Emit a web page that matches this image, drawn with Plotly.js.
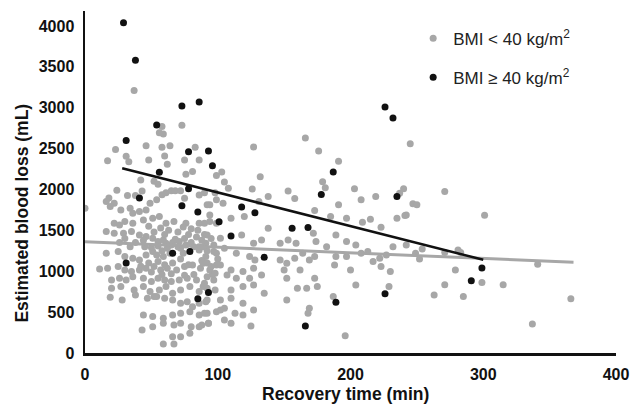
<!DOCTYPE html>
<html>
<head>
<meta charset="utf-8">
<script src="https://cdn.plot.ly/plotly-3.0.1.min.js"></script>
<style>html,body{margin:0;padding:0;background:#fff}#chart{width:634px;height:408px}</style>
</head>
<body>
<div id="chart"></div>
<script>
// BMI < 40 kg/m2 : recovery time (min) and estimated blood loss (mL)
const grayX = [
37,58,56,59,73,23,46,58,64,83,31,33,17,48,60,75,86,62,81,76,99,42,52,55,24,32,38,43,58,61,65,68,72,18,
127,166,176,191,245,103,105,108,132,126,138,153,158,179,181,203,240,90,98,271,
0,16,22,19,27,34,36,41,46,49,54,75,86,94,99,
22,26,30,36,44,51,56,61,67,76,86,94,
16,22,29,35,41,46,51,55,59,61,65,71,76,86,91,97,
16,25,30,36,41,46,51,54,59,64,74,86,91,99,
11,17,25,30,35,41,46,52,57,62,69,75,81,87,94,99,
20,26,31,36,44,50,55,60,65,71,77,84,90,97,
20,27,37,44,49,52,56,61,66,72,79,86,92,
19,28,38,47,54,60,66,72,77,81,86,91,
44,51,59,66,72,79,86,92,99,
43,51,59,67,72,80,86,93,
66,72,79,59,67,
45,50,55,58,62,66,68,70,72,75,78,80,82,84,88,90,92,95,60,63,57,52,48,44,38,34,30,26,70,74,80,85,88,72,66,60,55,48,42,78,82,75,65,58,50,92,96,100,
92,104,94,110,120,131,173,191,208,219,237,247,185,197,209,215,223,235,242,
90,99,92,102,118,127,133,138,147,153,159,172,174,182,189,197,204,213,222,227,232,242,249,
89,97,105,114,124,128,147,152,158,164,169,173,189,197,208,217,223,89,95,102,110,119,127,
92,98,107,114,124,133,150,152,162,173,175,188,200,204,230,229,89,98,110,119,127,135,152,160,167,187,92,102,110,119,
90,102,105,113,119,127,105,110,125,88,93,169,168,196,
250,241,301,254,252,271,281,283,279,271,263,285,299,315,341,366,337
];
const grayY = [
3210,2770,2695,2680,2785,2490,2535,2515,2535,2515,2405,2340,2350,2360,2410,2360,2360,2310,2220,2185,2170,2115,2100,2065,1990,1925,1925,1980,1935,1960,1985,1985,1985,1895,
2520,2630,2470,2345,2560,2215,2090,2015,2155,2005,1915,1980,1890,2095,2020,2010,2010,1960,1960,1975,
1770,1852,1832,1791,1750,1771,1710,1730,1750,1832,1873,1893,1934,1812,1873,
1587,1567,1608,1587,1628,1648,1669,1587,1608,1587,1587,1608,
1485,1465,1465,1485,1444,1424,1403,1363,1383,1342,1322,1363,1322,1301,1342,1322,
1220,1240,1179,1159,1138,1200,1240,1200,1179,1220,1220,1261,1179,1220,
1028,1036,1057,1016,996,1016,1036,1057,1016,1036,1016,1057,1077,1036,1016,1077,
894,914,894,934,914,873,914,894,873,894,914,894,853,894,
792,812,771,812,751,690,771,812,730,771,812,751,792,
681,649,710,669,690,669,649,608,628,567,608,628,
465,445,424,465,486,506,465,486,506,
282,322,363,343,363,322,322,363,
200,200,241,110,110,
1300,1290,1310,1250,1280,1350,1390,1300,1280,1400,1450,1350,1300,1420,1380,1450,1250,1400,1450,1500,1530,1480,1550,1380,1350,1300,1400,1350,1480,1540,1520,1500,1130,1150,1100,1080,1120,1100,1060,1080,960,950,970,960,990,1100,960,1150,
1812,1832,1689,1648,1669,1852,1742,1812,1873,1914,1954,1824,1669,1648,1599,1636,1538,1648,1689,
1587,1587,1444,1403,1444,1342,1383,1526,1342,1383,1342,1465,1363,1301,1444,1363,1322,1240,1159,1200,1301,1322,1220,
1301,1240,1281,1220,1179,1138,1138,1097,1159,1220,1138,1179,1179,1179,1220,1118,1057,1097,1057,1077,1016,996,1036,
934,975,955,914,914,955,1016,914,1016,914,812,1077,1016,832,996,812,812,771,771,812,832,730,649,792,792,690,649,649,669,608,
486,526,547,486,465,526,404,363,330,343,363,547,486,212,
1812,1681,1685,1273,1151,1228,1261,1228,1016,836,710,690,861,836,1085,665,355
];
// BMI >= 40 kg/m2
const blackX = [29,38,31,73,86,54,78,93,96,56,78,41,226,232,187,178,235,73,85,101,66,79,31,85,93,118,128,110,156,168,135,189,226,166,299,291];
const blackY = [4040,3580,2600,3020,3070,2790,2460,2470,2290,2210,2010,1895,3010,2875,2215,1940,1915,1800,1725,1605,1220,1240,1100,665,740,1785,1715,1430,1525,1535,1170,620,725,330,1040,885];
// Linear trend lines (endpoints)
const grayTrendX = [0, 368];
const grayTrendY = [1362, 1110];
const blackTrendX = [28, 300];
const blackTrendY = [2260, 1140];

const seriesNames = ['BMI < 40 kg/m<sup>2</sup>', 'BMI \u2265 40 kg/m<sup>2</sup>'];
const xTicks = [0, 100, 200, 300, 400];
const yTicks = [0, 500, 1000, 1500, 2000, 2500, 3000, 3500, 4000];

const GRAY = '#a7a7a7';
const BLACK = '#111111';
const FONT = "'Liberation Sans', Arial, sans-serif";

const traces = [
  {x: grayX, y: grayY, type: 'scatter', mode: 'markers', name: seriesNames[0], legendgroup: 'a',
   marker: {color: GRAY, size: 7}},
  {x: blackX, y: blackY, type: 'scatter', mode: 'markers', name: seriesNames[1], legendgroup: 'b',
   marker: {color: BLACK, size: 7}},
  {x: grayTrendX, y: grayTrendY, type: 'scatter', mode: 'lines', showlegend: false,
   line: {color: GRAY, width: 3}},
  {x: blackTrendX, y: blackTrendY, type: 'scatter', mode: 'lines', showlegend: false,
   line: {color: BLACK, width: 2.5}}
];

const axisCommon = {
  showline: true, linecolor: '#111', linewidth: 2.5, showgrid: false, zeroline: false,
  ticks: 'outside', ticklen: 5, tickcolor: 'rgba(0,0,0,0)',
  tickfont: {family: FONT, size: 16, weight: 700, color: '#111'}
};

const layout = {
  width: 634, height: 408,
  margin: {l: 85, r: 18, t: 11, b: 55},
  paper_bgcolor: '#fff', plot_bgcolor: '#fff',
  showlegend: true,
  legend: {x: 0.618, y: 0.972, xanchor: 'left', yanchor: 'top', bgcolor: 'rgba(0,0,0,0)',
           font: {family: FONT, size: 17, color: '#222'}, tracegroupgap: 14},
  xaxis: Object.assign({}, axisCommon, {range: [0, 400], tickvals: xTicks}),
  yaxis: Object.assign({}, axisCommon, {range: [0, 4183], tickvals: yTicks}),
  annotations: [
    {text: 'Estimated blood loss (mL)', xref: 'paper', yref: 'paper', x: -0.119, y: 0.41,
     textangle: -90, showarrow: false, xanchor: 'center', yanchor: 'middle',
     font: {family: FONT, size: 17.5, weight: 700, color: '#111'}},
    {text: 'Recovery time (min)', xref: 'paper', yref: 'paper', x: 0.49, y: -0.12,
     showarrow: false, xanchor: 'center', yanchor: 'middle',
     font: {family: FONT, size: 17.5, weight: 700, color: '#111'}}
  ]
};

Plotly.newPlot('chart', traces, layout, {displayModeBar: false, staticPlot: true});
</script>
</body>
</html>
